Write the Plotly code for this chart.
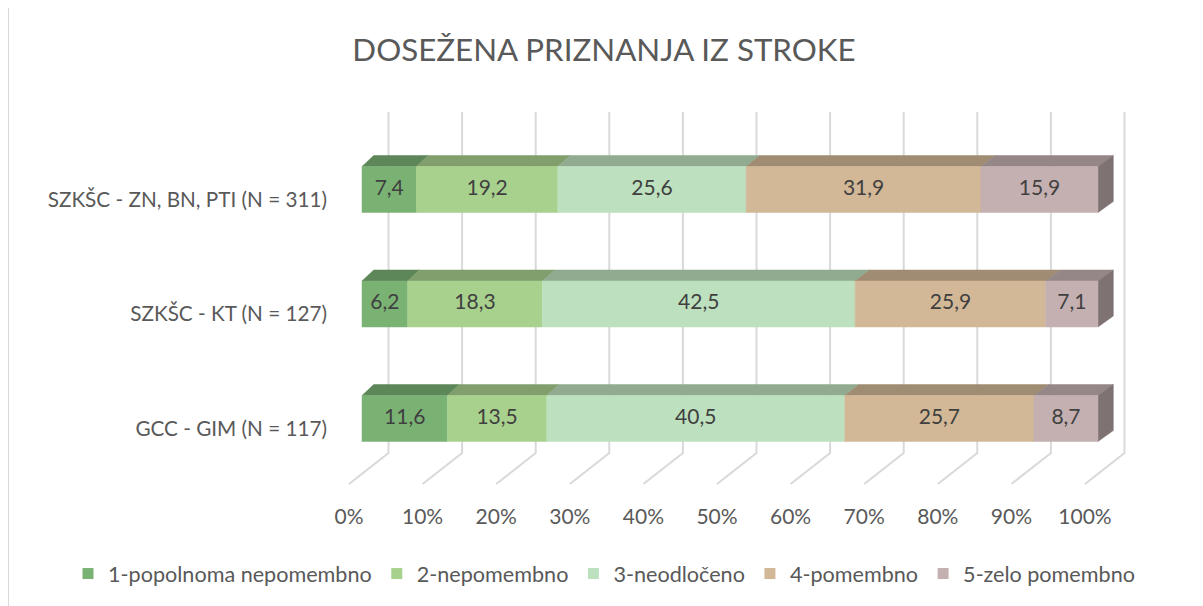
import plotly.graph_objects as go

# ---------------- data ----------------
categories = ["SZKŠC - ZN, BN, PTI (N = 311)", "SZKŠC - KT (N = 127)", "GCC - GIM (N = 117)"]
series_names = ["1-popolnoma nepomembno", "2-nepomembno", "3-neodločeno", "4-pomembno", "5-zelo pomembno"]
values_s1 = [7.4, 6.2, 11.6]
values_s2 = [19.2, 18.3, 13.5]
values_s3 = [25.6, 42.5, 40.5]
values_s4 = [31.9, 25.9, 25.7]
values_s5 = [15.9, 7.1, 8.7]
x_ticks = [0, 10, 20, 30, 40, 50, 60, 70, 80, 90, 100]
x_tick_labels = ["0%", "10%", "20%", "30%", "40%", "50%", "60%", "70%", "80%", "90%", "100%"]

series_values = [values_s1, values_s2, values_s3, values_s4, values_s5]
front_colors = ["#7AB274", "#A9D18E", "#BDE1BE", "#D2B896", "#C4B0B1"]
top_colors = ["#5D8758", "#809F6C", "#90AB90", "#A08C72", "#958687"]
side_colors = ["#4F7349", "#6E885C", "#7B937C", "#897862", "#7F7273"]

FONT = "Lato, sans-serif"

# ---------------- geometry (scale helpers) ----------------
# the page body has an 8px margin, so figure coordinates = page coordinates - 8
OFF = 8
W, H = 1203 - OFF, 606 - OFF
ML, MR, MT, MB = 330 - OFF, 33, 90 - OFF, 106
PW, PH = W - ML - MR, H - MT - MB
PX_X = 7.36      # pixels per percent unit
PX_Y = 114.5     # pixels per category step
FRONT_X0 = 362 - OFF   # pixel of 0 % at bar front plane
CAT0_Y = 189.5 - OFF   # pixel of first category at bar front plane


def ux(p):
    return p / PX_X


def uy(p):
    return p / PX_Y


x_range = [ux(ML - FRONT_X0), ux(W - MR - FRONT_X0)]
y_range = [uy(H - MB - CAT0_Y), uy(MT - CAT0_Y)]

half_h = uy(23)
depth_y = uy(11)


def depth_x(v):
    return ux(11.7 + 0.036 * v)


floor_front_dx = ux(349 - 362)
floor_back_dx = ux(388.5 - 362)
grid_top = uy(112 - 189.5)
grid_corner = uy(453 - 189.5)
grid_front = uy(484 - 189.5)

fig = go.Figure()

# ---------------- gridlines (back wall + floor) ----------------
gx, gy = [], []
for v in x_ticks:
    gx += [v + floor_back_dx, v + floor_back_dx, v + floor_front_dx, None]
    gy += [grid_top, grid_corner, grid_front, None]
fig.add_trace(go.Scatter(x=gx, y=gy, mode="lines", line=dict(color="#D9D9D9", width=2),
                         hoverinfo="skip", showlegend=False))

# ---------------- 3D stacked bars ----------------
label_x, label_y, label_t = [], [], []
for ci, cat in enumerate(categories):
    c = ci
    start = 0.0
    n = len(series_values)
    for si in range(n):
        val = series_values[si][ci]
        x0, x1 = start, start + val
        yt, yb = c - half_h, c + half_h
        # top face
        fig.add_trace(go.Scatter(
            x=[x0, x1, x1 + depth_x(x1), x0 + depth_x(x0), x0],
            y=[yt, yt, yt - depth_y, yt - depth_y, yt],
            mode="lines", fill="toself", fillcolor=top_colors[si],
            line=dict(color=top_colors[si], width=0.5), hoverinfo="skip", showlegend=False))
        # right side face for last segment
        if si == n - 1:
            fig.add_trace(go.Scatter(
                x=[x1, x1 + depth_x(x1), x1 + depth_x(x1), x1, x1],
                y=[yt, yt - depth_y, yb - depth_y, yb, yt],
                mode="lines", fill="toself", fillcolor=side_colors[si],
                line=dict(color=side_colors[si], width=0.5), hoverinfo="skip", showlegend=False))
        # front face
        fig.add_trace(go.Scatter(
            x=[x0, x1, x1, x0, x0],
            y=[yt, yt, yb, yb, yt],
            mode="lines", fill="toself", fillcolor=front_colors[si],
            line=dict(color=front_colors[si], width=0.5), hoverinfo="skip", showlegend=False))
        label_x.append((x0 + x1) / 2)
        label_y.append(c)
        label_t.append(f"{val:.1f}".replace(".", ","))
        start = x1

fig.add_trace(go.Scatter(x=label_x, y=label_y, text=label_t, mode="text",
                         textfont=dict(family=FONT, size=21, color="#404040"),
                         hoverinfo="skip", showlegend=False))

# ---------------- legend entries ----------------
for si, name in enumerate(series_names):
    fig.add_trace(go.Scatter(x=[None], y=[None], mode="markers", name=name,
                             marker=dict(symbol="square", size=11, color=front_colors[si])))

fig.update_layout(
    width=W, height=H,
    margin=dict(l=ML, r=MR, t=MT, b=MB, autoexpand=False),
    paper_bgcolor="white", plot_bgcolor="white",
    title=dict(text="DOSEŽENA PRIZNANJA IZ STROKE", x=(604 - OFF) / W, xanchor="center",
               y=1 - (50 - OFF) / H, yanchor="middle",
               font=dict(family=FONT, size=31.3, color="#595959")),
    xaxis=dict(range=x_range, showgrid=False, zeroline=False, showline=False,
               tickmode="array", tickvals=[v + floor_front_dx for v in x_ticks],
               ticktext=x_tick_labels, ticks="", ticklabelstandoff=2,
               tickfont=dict(family=FONT, size=21, color="#595959")),
    yaxis=dict(range=y_range, showgrid=False, zeroline=False, showline=False,
               tickmode="array", tickvals=[i + uy(10) for i in range(len(categories))],
               ticktext=categories, ticks="", ticklabelstandoff=2,
               tickfont=dict(family=FONT, size=20.7, color="#595959")),
    legend=dict(orientation="h", x=(68 - OFF - ML) / PW, xref="paper", xanchor="left",
                y=-(574 - 500) / PH, yref="paper", yanchor="middle",
                font=dict(family=FONT, size=21.6, color="#595959"),
                itemwidth=30, tracegroupgap=0, bgcolor="rgba(0,0,0,0)"),
    shapes=[dict(type="line", xref="paper", yref="paper",
                 x0=-(ML - 0.5) / PW, x1=-(ML - 0.5) / PW,
                 y0=-MB / PH, y1=1 + MT / PH,
                 line=dict(color="#D9D9D9", width=1)),
            dict(type="line", xref="paper", yref="paper",
                 x0=1 + (MR - 3.5) / PW, x1=1 + (MR - 3.5) / PW,
                 y0=-MB / PH, y1=1 + MT / PH,
                 line=dict(color="#D9D9D9", width=1))],
    showlegend=True,
)

fig.write_html("out.html")
